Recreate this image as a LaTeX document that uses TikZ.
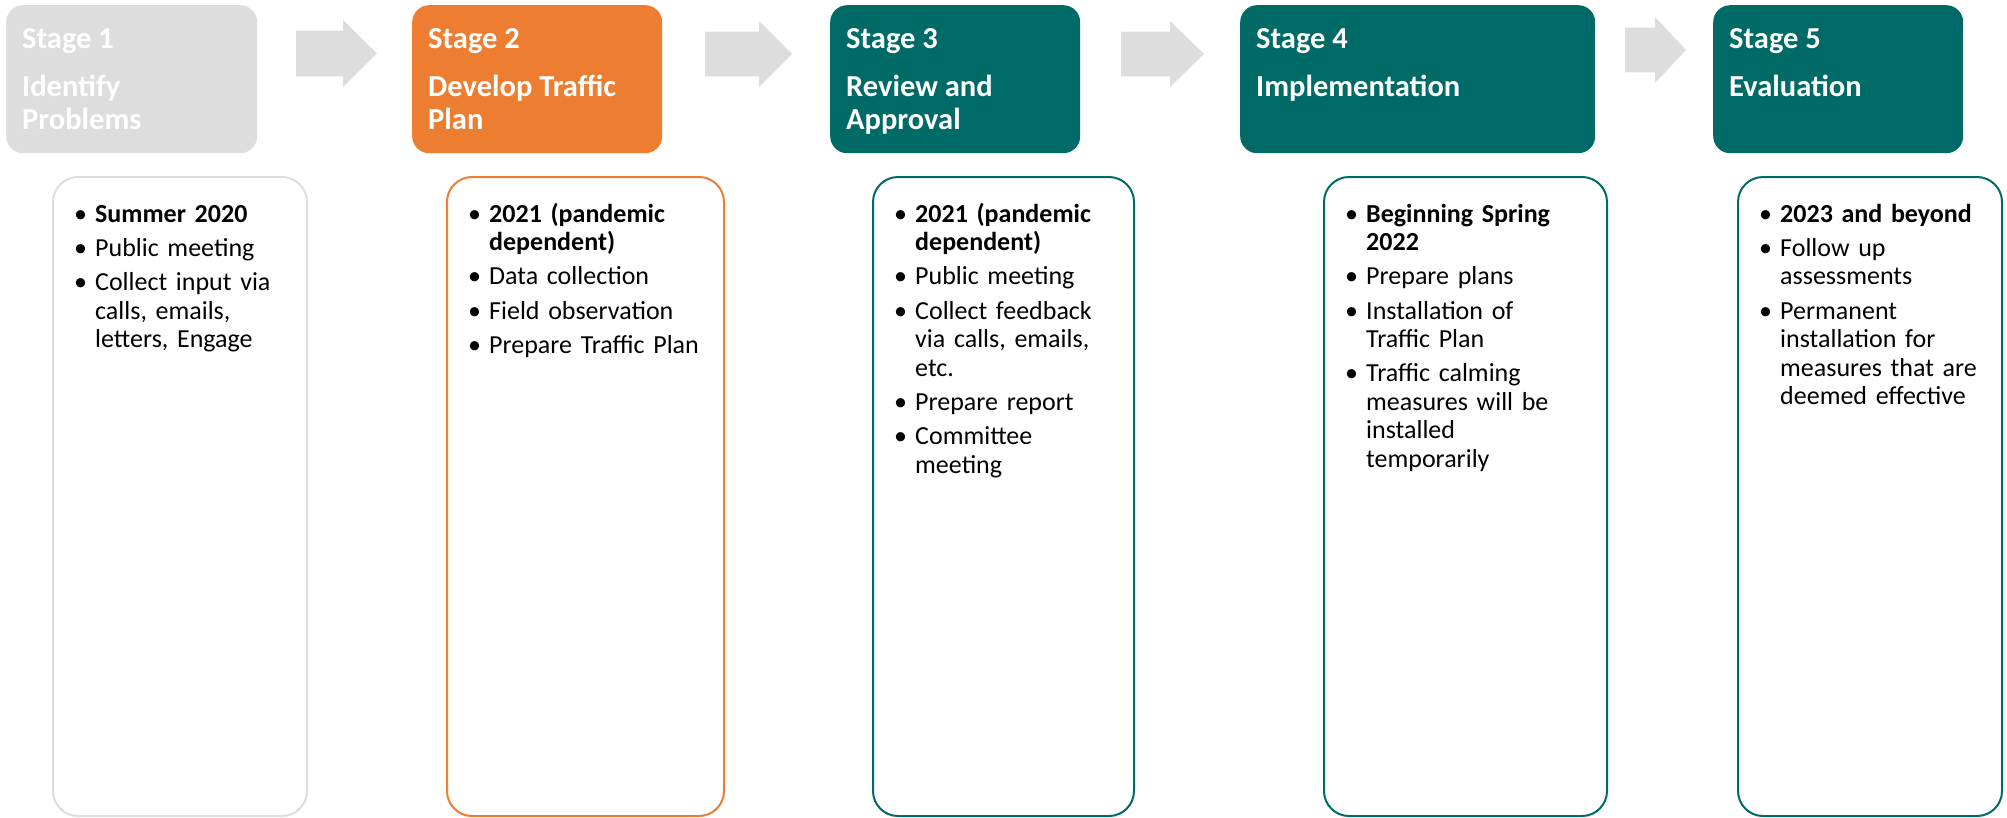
\documentclass[tikz,border=0pt]{standalone}
\usepackage{fontspec}
\setmainfont{Carlito}
\usepackage{xcolor}
\usepackage{tikz}

\definecolor{stagegray}{HTML}{DDDDDD}
\definecolor{stageorange}{HTML}{ED7D31}
\definecolor{stageteal}{HTML}{006A66}

% one bullet line, wrapped lines kept under the text
\newcommand{\bitem}[1]{\noindent\lineskip=0pt%
  \hbox to 21pt{\hfil\makebox[0pt][c]{\textbullet}\hspace{14.5pt}}%
  \parbox[t]{220pt}{\strut#1\strut}\par\setlength{\parskip}{5.5pt}}

\tikzset{
  headbox/.style={rounded corners=17pt, minimum height=148, anchor=north west, inner sep=0},
  headtext/.style={anchor=north west, inner sep=0, align=left, text=white,
    font=\fontsize{30.5}{33}\selectfont\bfseries},
  listbox/.style={rounded corners=25pt, line width=2pt, minimum height=639, anchor=north west, inner sep=0},
  listtext/.style={anchor=north west, inner sep=0, text width=245, font=\fontsize{26}{28.6}\selectfont},
  blockarrow/.style={fill=stagegray}
}

\begin{document}
\begin{tikzpicture}[x=1pt,y=-1pt]
    \useasboundingbox (0,0) rectangle (2007,817);

    % Stage headers
    \foreach \n/\x/\w/\col in {1/6/251/stagegray, 2/412/250/stageorange, 3/830/250/stageteal,
                               4/1240/355/stageteal, 5/1713/250/stageteal} {
        \node[headbox, fill=\col, minimum width=\w] (hd\n) at (\x,5) {};
    }
    \node[headtext] (ht1) at ([shift={(16,20)}]hd1.north west) {\strut Stage 1\\[15pt]Identify\\Problems};
    \node[headtext] (ht2) at ([shift={(16,20)}]hd2.north west) {\strut Stage 2\\[15pt]Develop Traffic\\Plan};
    \node[headtext] (ht3) at ([shift={(16,20)}]hd3.north west) {\strut Stage 3\\[15pt]Review and\\Approval};
    \node[headtext] (ht4) at ([shift={(16,20)}]hd4.north west) {\strut Stage 4\\[15pt]Implementation};
    \node[headtext] (ht5) at ([shift={(16,20)}]hd5.north west) {\strut Stage 5\\[15pt]Evaluation};

    % Block arrows between the headers
    \foreach \xa/\xb/\xc/\ya/\yb in {296/343/377/20/87, 705/759/792/21/87,
                                     1121/1170/1204/21/87, 1625/1655/1686/17/83} {
        \pgfmathsetmacro{\yc}{(\ya+\yb)/2}
        \pgfmathsetmacro{\s}{0.34*(\yb-\ya)}
        \fill[blockarrow] (\xa,\yc-\s) -- (\xb,\yc-\s) -- (\xb,\ya) -- (\xc,\yc)
            -- (\xb,\yb) -- (\xb,\yc+\s) -- (\xa,\yc+\s) -- cycle;
    }

    % Lists below
    \foreach \n/\x/\w/\col in {1/52/254/stagegray, 2/446/277/stageorange, 3/872/261/stageteal,
                               4/1323/283/stageteal, 5/1737/264/stageteal} {
        \node[listbox, draw=\col, minimum width=\w] (bd\n) at (\x,176) {};
    }
    \node[listtext] (lt1) at ([shift={(22,26)}]bd1.north west)
        {\bitem{\textbf{Summer 2020}}\bitem{Public meeting}\bitem{Collect input via\newline calls, emails,\newline letters, Engage}};
    \node[listtext] (lt2) at ([shift={(22,26)}]bd2.north west)
        {\bitem{\textbf{2021 (pandemic\newline dependent)}}\bitem{Data collection}\bitem{Field observation}\bitem{Prepare Traffic Plan}};
    \node[listtext] (lt3) at ([shift={(22,26)}]bd3.north west)
        {\bitem{\textbf{2021 (pandemic\newline dependent)}}\bitem{Public meeting}\bitem{Collect feedback\newline via calls, emails,\newline etc.}\bitem{Prepare report}\bitem{Committee\newline meeting}};
    \node[listtext] (lt4) at ([shift={(22,26)}]bd4.north west)
        {\bitem{\textbf{Beginning Spring\newline 2022}}\bitem{Prepare plans}\bitem{Installation of\newline Traffic Plan}\bitem{Traffic calming\newline measures will be\newline installed\newline temporarily}};
    \node[listtext] (lt5) at ([shift={(22,26)}]bd5.north west)
        {\bitem{\textbf{2023 and beyond}}\bitem{Follow up\newline assessments}\bitem{Permanent\newline installation for\newline measures that are\newline deemed effective}};
\end{tikzpicture}
\end{document}
